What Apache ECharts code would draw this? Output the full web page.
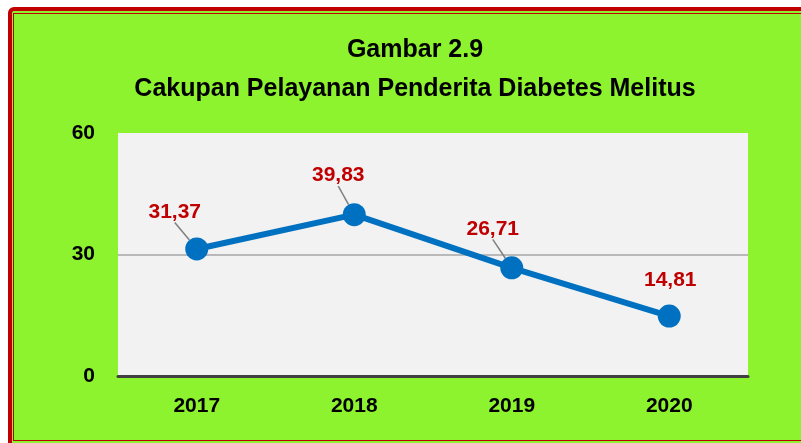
<!DOCTYPE html>
<html>
<head>
<meta charset="utf-8">
<script src="https://cdn.jsdelivr.net/npm/echarts@6/dist/echarts.min.js"></script>
<style>
  html, body { margin: 0; padding: 0; background: #fff; overflow: hidden; }
  .outer {
    position: absolute; left: 8px; top: 7px; width: 1000px; height: 1000px;
    border: 4px solid #c00000; border-top-left-radius: 6px; background: #8ef32f;
    box-sizing: border-box;
  }
  .inner {
    position: absolute; left: 13px; top: 13px; width: 1000px; height: 428px;
    border: 1.5px solid #c00000; box-sizing: border-box;
  }
  #container { position: absolute; left: 0; top: 0; width: 801px; height: 443px; }
</style>
</head>
<body>
<div class="outer"></div>
<div class="inner"></div>
<div id="container"></div>
<script>
const years = ['2017', '2018', '2019', '2020']
const coverage = [31.37, 39.83, 26.71, 14.81]
const titleLines = ['Gambar 2.9', 'Cakupan Pelayanan Penderita Diabetes Melitus']

// where each value label sits relative to its point, and whether it gets a leader line
const labelShift = [[-22, -15], [-16, -17], [-19, -17], [1, -14]]
const showGuide = [true, true, true, false]

const font = '"Liberation Sans", Arial, sans-serif'

let chart = echarts.init(document.getElementById('container'))

chart.setOption({
    backgroundColor: 'transparent',
    animation: false,
    title: {
        text: titleLines.join('\n'),
        left: 410,
        top: 26,
        textAlign: 'center',
        textStyle: {
            fontFamily: font,
            fontSize: 25,
            fontWeight: 'bold',
            color: '#000',
            lineHeight: 39
        }
    },
    grid: {
        left: 118,
        right: 53,
        top: 133,
        bottom: 67,
        show: true,
        backgroundColor: '#f2f2f2',
        borderWidth: 0
    },
    xAxis: {
        type: 'category',
        data: years,
        axisTick: { show: false },
        axisLine: { lineStyle: { color: '#404040', width: 3 } },
        axisLabel: {
            margin: 20,
            fontFamily: font,
            fontSize: 21,
            fontWeight: 'bold',
            color: '#000'
        }
    },
    yAxis: {
        type: 'value',
        min: 0,
        max: 60,
        interval: 30,
        axisLine: { show: false },
        axisTick: { show: false },
        axisLabel: {
            margin: 23,
            fontFamily: font,
            fontSize: 21,
            fontWeight: 'bold',
            color: '#000'
        },
        splitLine: {
            lineStyle: { color: ['transparent', '#a6a6a6', 'transparent'], width: 1.5 }
        }
    },
    series: [{
        type: 'line',
        data: coverage.map((v, i) => ({ value: v, labelLine: { show: showGuide[i] } })),
        symbol: 'circle',
        symbolSize: 23,
        itemStyle: { color: '#0070c0' },
        lineStyle: { color: '#0070c0', width: 6 },
        label: {
            show: true,
            position: 'top',
            distance: 0,
            fontFamily: font,
            fontSize: 21,
            fontWeight: 'bold',
            color: '#c00000',
            formatter: p => p.value.toFixed(2).replace('.', ',')
        },
        labelLine: {
            show: true,
            lineStyle: { color: '#7f7f7f', width: 1.5 }
        },
        labelLayout: p => ({ dx: labelShift[p.dataIndex][0], dy: labelShift[p.dataIndex][1] })
    }]
})
</script>
</body>
</html>
